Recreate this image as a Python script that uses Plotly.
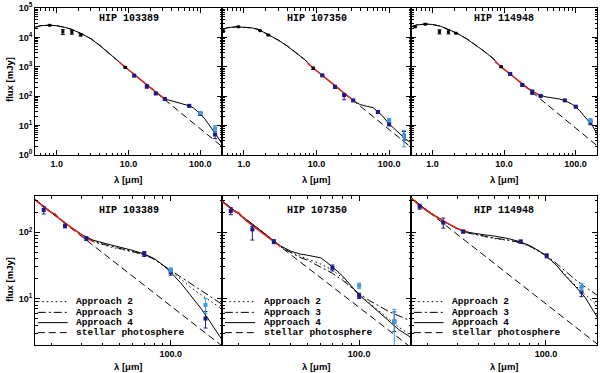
import numpy as np
import plotly.graph_objects as go

stars = ['HIP 103389', 'HIP 107350', 'HIP 114948']

# model wavelength grid [micron]
wl_grid = [0.5, 0.6, 0.8, 1.0, 1.3, 1.6, 2.2, 3.0, 4.0, 5.0, 7.0, 9.0, 12,
           16, 20, 25, 30, 35, 40, 45, 50, 60, 70, 80, 90, 100, 115, 130, 150, 170, 200]
n_short = 13
far_wl = wl_grid[n_short:]

# stellar photospheres [mJy]
phot_103389 = [22000, 25000, 26000, 25000, 22000, 19000, 13500, 9000, 5300, 3300, 1650, 960, 540,
               304, 194, 124, 86, 63.5, 48.6, 38.4, 31.1, 21.6, 15.9, 12.2, 9.6, 7.8, 5.9, 4.6, 3.46, 2.7, 1.94]
phot_107350 = [18000, 21500, 23000, 22500, 21000, 18500, 12500, 8000, 5000, 3300, 1700, 900, 510,
               288, 184, 118, 82, 60, 46, 36.4, 29.5, 20.5, 15, 11.5, 9.1, 7.4, 5.6, 4.4, 3.3, 2.55, 1.84]
phot_114948 = [23000, 26500, 28500, 27500, 24000, 19500, 13800, 9000, 5600, 3700, 1950, 1000, 580,
               325, 208, 133, 92, 68, 52, 41, 33, 23, 17, 13, 10.3, 8.3, 6.3, 4.9, 3.7, 2.9, 2.08]

# disc + star models on far_wl [mJy]
app2_103389 = [310, 198, 127, 90, 72, 64, 59, 56, 51, 46, 39, 32, 26, 19.5, 15, 11.5, 9.3, 7]
app3_103389 = [310, 198, 127, 91, 74, 66, 61, 57, 51, 46, 39, 32, 26.5, 21, 17, 13.3, 10.8, 8.2]
app4_103389 = [310, 198, 127, 92, 76, 69, 64, 60, 53, 47, 40, 32, 25, 17, 11.5, 7.2, 4.5, 2.4]

app2_107350 = [295, 190, 122, 85, 61, 50, 44, 40, 33, 27, 20.5, 15, 11.5, 8.5, 6.5, 4.8, 3.7, 2.8]
app3_107350 = [295, 190, 122, 85, 60, 49, 42, 38, 30, 24, 19, 15, 11.8, 9.3, 7.7, 6.3, 5.5, 4.6]
app4_107350 = [295, 190, 122, 86, 62, 52, 47, 45, 41, 30, 22, 15.5, 11.3, 8.3, 6.3, 4.5, 3.4, 2.6]

app2_114948 = [330, 210, 145, 112, 97, 89, 84, 80, 75, 69, 61, 52, 44, 32, 23, 15.5, 11.5, 8]
app3_114948 = [330, 210, 145, 112, 97, 90, 85, 81, 76, 70, 62, 53, 45, 34, 26, 19, 15, 11.3]
app4_114948 = [330, 210, 145, 113, 99, 93, 90, 87, 80, 72, 63, 53, 44, 32, 22, 15, 10.5, 5.3]

# IRS spectra [mJy]
irs_wl = [7.5, 8, 9, 10, 11, 12, 13, 14, 15, 16, 17, 18, 19, 20, 21, 22, 24, 26, 28, 30, 32, 34, 35]
irs_103389 = [1400, 1230, 960, 790, 650, 540, 465, 400, 350, 310, 272, 245, 218, 196, 188, 163,
              137, 118, 102, 90, 82, 76, 72]
irs_107350 = [1320, 1160, 900, 735, 605, 510, 435, 375, 327, 288, 255, 228, 204, 196, 168, 150,
              126, 107, 92, 81, 72, 64, 60]
irs_114948 = [1480, 1300, 1030, 835, 690, 580, 495, 428, 372, 325, 285, 250, 224, 205, 190, 176,
              155, 138, 124, 114, 107, 102, 100]

# photometry: optical / near-IR (black)
blk_wl_103389 = [0.8, 1.22, 1.63, 2.16, 9.0]
blk_f_103389 = [25700, 15600, 14900, 12300, 960]
blk_e_103389 = [0, 3000, 2000, 1200, 60]
blk_wl_107350 = [0.52, 0.84, 1.67, 2.17, 9.0]
blk_f_107350 = [16000, 23000, 17000, 12000, 890]
blk_e_107350 = [0, 0, 0, 0, 80]
blk_wl_114948 = [0.57, 0.79, 1.25, 1.67, 2.13, 9.1]
blk_f_114948 = [23000, 28000, 15600, 15600, 13800, 1000]
blk_e_114948 = [0, 0, 2500, 2500, 0, 60]

# mid/far-IR photometry (dark blue)
blu_wl_103389 = [12, 18, 24, 32, 70, 100, 160]
blu_f_103389 = [500, 216, 124, 80, 47, 25, 5.0]
blu_ep_103389 = [30, 28, 8, 5, 4, 2.5, 1.4]
blu_em_103389 = [30, 28, 8, 5, 4, 2.5, 1.4]
blu_wl_107350 = [12, 18, 24, 32, 70, 100, 160]
blu_f_107350 = [510, 208, 110, 72, 29, 11, 4.5]
blu_ep_107350 = [25, 25, 12, 5, 3, 1, 1.8]
blu_em_107350 = [25, 25, 34, 5, 3, 1, 1.3]
blu_wl_114948 = [12.2, 18, 24.8, 32.5, 71, 101, 162]
blu_f_114948 = [570, 242, 139, 102, 72, 44, 12.7]
blu_ep_114948 = [30, 20, 24, 5, 4, 3, 2]
blu_em_114948 = [30, 20, 24, 5, 4, 3, 2]

# alternative far-IR photometry (light blue)
lb_wl_103389 = [100, 160]
lb_f_103389 = [27, 8.0]
lb_ep_103389 = [2, 2]
lb_em_103389 = [2, 2]
lb_wl_107350 = [100, 160]
lb_f_107350 = [15.6, 4.5]
lb_ep_107350 = [1.5, 2.4]
lb_em_107350 = [1.5, 2.6]
lb_wl_114948 = [162]
lb_f_114948 = [15]
lb_ep_114948 = [2]
lb_em_114948 = [2]

legend_names = ['Approach 2', 'Approach 3', 'Approach 4', 'stellar photosphere']

data = [
    (phot_103389, app2_103389, app3_103389, app4_103389, irs_103389,
     (blk_wl_103389, blk_f_103389, blk_e_103389),
     (blu_wl_103389, blu_f_103389, blu_ep_103389, blu_em_103389),
     (lb_wl_103389, lb_f_103389, lb_ep_103389, lb_em_103389)),
    (phot_107350, app2_107350, app3_107350, app4_107350, irs_107350,
     (blk_wl_107350, blk_f_107350, blk_e_107350),
     (blu_wl_107350, blu_f_107350, blu_ep_107350, blu_em_107350),
     (lb_wl_107350, lb_f_107350, lb_ep_107350, lb_em_107350)),
    (phot_114948, app2_114948, app3_114948, app4_114948, irs_114948,
     (blk_wl_114948, blk_f_114948, blk_e_114948),
     (blu_wl_114948, blu_f_114948, blu_ep_114948, blu_em_114948),
     (lb_wl_114948, lb_f_114948, lb_ep_114948, lb_em_114948)),
]

RED = '#e3241c'
NAVY = '#1b1b86'
LBLUE = '#3a9be0'
DASH = '7px,4px'
DASHDOT = '8px,3px,2px,3px'
DOT = '1.5px,3px'
FONT = 'Liberation Sans'
MONO = 'Liberation Mono'

fig = go.Figure()


def ax(k):
    return '' if k == 1 else str(k)


def add_points(k, pts, color, sym_err=False, size=4):
    if sym_err:
        wl, f, e = pts
        err = dict(type='data', array=e, color=color, thickness=1, width=2)
    else:
        wl, f, ep, em = pts
        err = dict(type='data', array=ep, arrayminus=em, color=color, thickness=1, width=2)
    fig.add_trace(go.Scatter(x=wl, y=f, mode='markers', xaxis='x' + ax(k), yaxis='y' + ax(k),
                             marker=dict(symbol='square', size=size, color=color),
                             error_y=err, showlegend=False, hoverinfo='skip'))


def add_line(k, x, y, color='black', dash='solid', width=1):
    fig.add_trace(go.Scatter(x=x, y=y, mode='lines', xaxis='x' + ax(k), yaxis='y' + ax(k),
                             line=dict(color=color, dash=dash, width=width),
                             showlegend=False, hoverinfo='skip'))


for i, (phot, a2, a3, a4, irs, blk, blu, lb) in enumerate(data):
    # top row: full SED
    kt = i + 1
    add_line(kt, wl_grid, phot, dash=DASH)
    add_line(kt, wl_grid, phot[:n_short] + a4)
    add_line(kt, irs_wl, irs, color=RED, width=1.5)
    add_points(kt, blk, 'black', sym_err=True, size=3)
    add_points(kt, blu, NAVY)
    add_points(kt, lb, LBLUE)
    # bottom row: far-IR zoom
    kb = i + 4
    add_line(kb, far_wl, phot[n_short:], dash=DASH)
    add_line(kb, far_wl, a2, dash=DOT)
    add_line(kb, far_wl, a3, dash=DASHDOT)
    add_line(kb, far_wl, a4)
    add_line(kb, irs_wl, irs, color=RED, width=1.5)
    add_points(kb, blu, NAVY)
    add_points(kb, lb, LBLUE)

# panel geometry (pixels): plot area x 35..597, y 8..345
L, R, T, B = 35, 3, 8, 28
W, H = 600, 373
pw, ph = W - L - R, H - T - B
xedges = [35, 222, 411, 597]
xdoms = [[(xedges[j] - L) / pw, (xedges[j + 1] - L) / pw] for j in range(3)]
ydom_top = [(345 - 155) / ph, 1.0]
ydom_bot = [0.0, (345 - 196) / ph]

tick_font = dict(family=FONT, size=9, color='black', weight='bold')


def minor_vals(lo, hi):
    vals = []
    for d in range(lo, hi + 1):
        for m in range(2, 10):
            vals.append(m * 10.0 ** d)
    return vals


base = dict(type='log', showline=True, linecolor='black', linewidth=1, mirror='allticks',
            ticks='inside', ticklen=5, tickwidth=1, tickcolor='black', showgrid=False,
            zeroline=False, tickfont=tick_font, tickmode='array', automargin=False)

layout = {}
for k in range(1, 7):
    j = (k - 1) % 3
    top = k <= 3
    xa = dict(base, domain=xdoms[j], anchor='y' + ax(k))
    ya = dict(base, domain=ydom_top if top else ydom_bot, anchor='x' + ax(k))
    if top:
        xa.update(range=[np.log10(0.5), np.log10(200)], tickvals=[1, 10, 100],
                  ticktext=['1.0', '10.0', '100.0'],
                  minor=dict(ticks='inside', ticklen=2.5, tickcolor='black', tickvals=minor_vals(-1, 2)))
        ya.update(range=[0, 5], tickvals=[10 ** n for n in range(6)],
                  ticktext=['10<sup>%d</sup>' % n for n in range(6)],
                  minor=dict(ticks='inside', ticklen=2.5, tickcolor='black', tickvals=minor_vals(0, 4)))
    else:
        xa.update(range=[np.log10(16), np.log10(200)], tickvals=[100], ticktext=['100.0'],
                  minor=dict(ticks='inside', ticklen=2.5, tickcolor='black', tickvals=minor_vals(1, 2)))
        ya.update(range=[np.log10(2), np.log10(350)], tickvals=[10, 100],
                  ticktext=['10<sup>1</sup>', '10<sup>2</sup>'],
                  minor=dict(ticks='inside', ticklen=2.5, tickcolor='black', tickvals=minor_vals(0, 2)))
    ya['showticklabels'] = (j == 0)
    layout['xaxis' + ax(k)] = xa
    layout['yaxis' + ax(k)] = ya

annotations = []
shapes = []
lab_font = dict(family=MONO, size=10, color='black', weight='bold')
for k in range(1, 7):
    j = (k - 1) % 3
    top = k <= 3
    annotations.append(dict(text=stars[j], xref='x%s domain' % ax(k), yref='y%s domain' % ax(k),
                            x=0.5, y=0.93 if top else 0.905, showarrow=False, font=lab_font,
                            xanchor='center', yanchor='middle'))
    annotations.append(dict(text='λ [μm]', xref='x%s domain' % ax(k), yref='paper',
                            x=0.5, y=(345 - 179) / ph if top else (345 - 366) / ph,
                            showarrow=False, font=dict(family=FONT, size=9.5, color='black', weight='bold'),
                            xanchor='center', yanchor='middle'))

for yc in [(345 - 80) / ph, (345 - 280) / ph]:
    annotations.append(dict(text='flux [mJy]', xref='paper', yref='paper', x=(9 - L) / pw, y=yc,
                            textangle=-90, showarrow=False,
                            font=dict(family=FONT, size=9.5, color='black', weight='bold'),
                            xanchor='center', yanchor='middle'))

# legends in the lower panels
leg_dash = [DOT, DASHDOT, 'solid', DASH]
leg_y = [0.291, 0.219, 0.150, 0.083]
for k in range(4, 7):
    for name, dsh, yy in zip(legend_names, leg_dash, leg_y):
        shapes.append(dict(type='line', xref='x%s domain' % ax(k), yref='y%s domain' % ax(k),
                           x0=0.015, x1=0.175, y0=yy, y1=yy,
                           line=dict(color='black', width=1, dash=dsh)))
        annotations.append(dict(text=name, xref='x%s domain' % ax(k), yref='y%s domain' % ax(k),
                                x=0.21, y=yy, showarrow=False, xanchor='left', yanchor='middle',
                                font=dict(family=MONO, size=9.5, color='black', weight='bold')))

fig.update_layout(**layout)
fig.update_layout(width=W, height=H, margin=dict(l=L, r=R, t=T, b=B, autoexpand=False),
                  plot_bgcolor='white', paper_bgcolor='white',
                  annotations=annotations, shapes=shapes, showlegend=False)

# the page body has a default 8px margin; drop it so the figure fills the window
fig.write_html('out.html', config={'displayModeBar': False},
               post_script="document.body.style.margin='0';")
